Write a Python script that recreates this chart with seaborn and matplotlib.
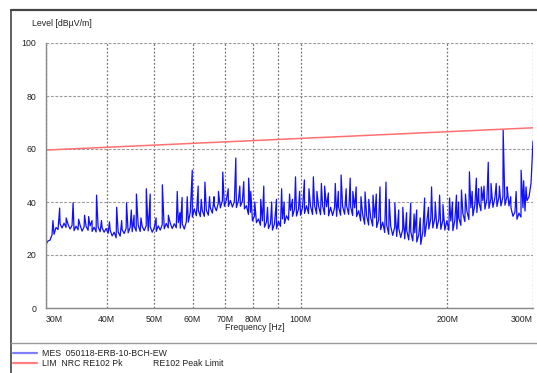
import numpy as np
import pandas as pd
import matplotlib.pyplot as plt
from matplotlib.lines import Line2D
from matplotlib.ticker import FixedLocator, NullLocator
import seaborn as sns

# Pomiar: poziom tła w dBuV/m, 244 próbki od 30 MHz do 300 MHz (skala log)
f_start, f_stop = 30, 300  # MHz
level_db = [
    24.0, 25.3, 25.6, 27.6, 27.8, 30.4, 29.6, 31.8, 30.2, 32.0,
    30.4, 31.6, 29.8, 31.2, 29.2, 30.9, 29.5, 31.3, 29.0, 30.6,
    30.8, 29.3, 31.0, 28.9, 30.5, 28.7, 30.6, 28.8, 30.2, 28.6,
    30.0, 28.2, 29.4, 27.2, 28.6, 26.5, 28.7, 27.1, 29.5, 28.1,
    30.1, 28.4, 30.5, 28.8, 30.9, 29.0, 31.2, 28.9, 30.8, 29.2,
    31.0, 29.1, 30.7, 28.6, 30.3, 28.9, 31.0, 29.4, 31.5, 29.9,
    31.9, 30.2, 32.0, 30.0, 31.8, 30.3, 32.2, 30.1, 31.7, 29.8,
    32.5, 32.4, 36.2, 34.3, 37.4, 34.8, 36.9, 34.5, 36.7, 34.6,
    36.9, 35.0, 37.8, 35.8, 38.6, 36.7, 39.7, 37.8, 40.5, 38.4,
    40.8, 38.3, 40.6, 38.1, 40.2, 37.9, 40.5, 38.4, 40.4, 37.4,
    38.6, 35.3, 36.1, 32.9, 34.7, 32.2, 33.6, 31.2, 32.9, 30.5,
    32.4, 30.0, 31.8, 29.4, 31.8, 29.9, 32.7, 30.8, 33.6, 31.9,
    34.8, 33.2, 36.8, 34.6, 37.3, 34.7, 37.4, 35.0, 37.9, 35.7,
    38.6, 35.6, 38.4, 35.3, 38.8, 35.5, 38.5, 35.2, 38.6, 35.3,
    38.2, 34.8, 38.0, 34.9, 37.9, 34.6, 38.1, 35.0, 38.3, 35.4,
    38.6, 35.3, 38.2, 34.9, 37.8, 34.5, 36.7, 32.9, 35.4, 31.6,
    34.8, 31.3, 34.2, 30.9, 34.0, 30.4, 33.3, 29.6, 32.4, 28.5,
    31.3, 27.8, 30.9, 27.4, 30.6, 27.0, 30.1, 26.6, 29.8, 26.1,
    29.2, 25.7, 28.8, 25.3, 28.4, 24.9, 27.6, 24.0, 28.6, 27.0,
    32.4, 29.8, 33.8, 30.2, 33.9, 30.0, 33.5, 29.7, 33.1, 29.4,
    32.9, 29.3, 32.8, 29.2, 33.1, 29.8, 34.0, 31.2, 35.7, 32.6,
    36.6, 33.4, 37.8, 34.8, 39.0, 36.0, 40.0, 36.7, 40.5, 37.3,
    41.0, 37.6, 41.3, 38.0, 41.6, 38.3, 41.8, 38.5, 42.0, 38.8,
    42.2, 38.5, 37.8, 34.6, 36.2, 33.5, 35.8, 34.3, 37.8, 36.6,
    40.5, 42.0, 47.0, 63.0,
]

# Piki (częstotliwość w MHz, poziom w dBuV/m)
spike_mhz = [32.0, 34.1, 36.0, 36.7, 38.1, 41.9, 43.9, 44.9, 46.0, 48.2,
             49.1, 52.0, 55.8, 57.1, 58.5, 59.9, 61.6, 63.6, 66.4, 69.2,
             73.6, 76.4, 78.2, 79.0, 82.8, 84.0, 87.2, 89.2, 91.4, 94.9,
             97.6, 101.8, 106.2, 110.3, 114.0, 117.8, 121.1, 126.4, 130.0, 135.6,
             140.8, 145.5, 149.7, 156.1, 162.1, 168.3, 173.1, 179.7, 185.7, 192.9,
             202.2, 208.9, 213.9, 222.1, 229.5, 235.0, 242.8, 252.1, 260.5, 265.5,
             283.6, 290.3]
spike_db = [37.7, 39.7, 35.0, 34.5, 42.6, 38.0, 39.7, 37.0, 43.0, 45.0,
            43.0, 46.5, 44.0, 41.7, 42.0, 52.0, 46.0, 47.5, 42.0, 51.3,
            56.6, 47.7, 49.0, 44.0, 41.0, 46.0, 40.0, 41.0, 45.0, 43.0,
            49.5, 48.3, 49.5, 47.0, 43.4, 47.0, 50.2, 49.0, 45.7, 43.8,
            42.6, 45.7, 47.5, 39.6, 38.0, 39.6, 37.0, 41.5, 45.7, 42.6,
            41.5, 42.6, 44.5, 51.4, 49.0, 45.7, 55.0, 47.0, 67.2, 45.7,
            52.0, 45.7]

# Mniejsze piki (jaśniejsza "grzywka" nad pasmem szumu)
small_mhz = [31.0, 33.0, 35.0, 37.3, 39.0, 40.5, 42.9, 45.5, 47.0, 50.5,
             53.5, 56.5, 62.5, 65.0, 67.8, 71.0, 75.0, 80.5, 85.5, 92.5,
             96.2, 99.5, 104.0, 108.0, 112.0, 119.5, 124.0, 128.0, 133.0, 138.0,
             143.0, 152.0, 159.0, 165.0, 171.0, 176.0, 183.0, 189.0, 196.0, 205.0,
             211.0, 218.0, 225.0, 232.0, 238.0, 246.0, 256.0, 270.0, 277.0, 287.0]
small_db = [33.0, 34.0, 33.5, 33.0, 33.0, 32.5, 33.0, 35.0, 34.0, 34.0,
            35.0, 36.0, 41.0, 42.0, 44.0, 45.0, 46.0, 40.0, 38.0, 40.0,
            41.0, 44.0, 45.0, 44.0, 46.0, 44.0, 45.0, 44.0, 42.0, 41.0,
            43.0, 41.0, 37.0, 36.0, 35.5, 34.0, 38.0, 40.0, 39.0, 40.0,
            40.0, 43.0, 44.0, 45.0, 46.0, 47.0, 46.0, 42.0, 44.0, 48.0]

# Linia limitu NRC RE102 Pk
limit_mhz = [30, 300]
limit_db = [59.6, 68.0]

x_ticks_mhz = [30, 40, 50, 60, 70, 80, 90, 100, 200, 300]
x_tick_labels = ['30M', '40M', '50M', '60M', '70M', '80M', '', '100M', '200M', '300M']
y_ticks = [0, 20, 40, 60, 80, 100]

sweep_mhz = np.geomspace(f_start, f_stop, len(level_db))
mes = pd.DataFrame({
    'f': np.concatenate([sweep_mhz, spike_mhz, small_mhz]),
    'level': np.concatenate([level_db, spike_db, small_db]),
}).sort_values('f')
lim = pd.DataFrame({'f': limit_mhz, 'level': limit_db})

sns.set_theme(style="white")
plt.rcParams['font.family'] = ['Liberation Sans', 'DejaVu Sans']

fig = plt.figure(figsize=(5.37, 3.73), dpi=100)
ax = fig.add_axes([46 / 537, 1 - 308 / 373, 487 / 537, 265 / 373])

sns.lineplot(data=mes, x='f', y='level', ax=ax, estimator=None,
             color='#1010ff', linewidth=0.9)
sns.lineplot(data=lim, x='f', y='level', ax=ax, estimator=None,
             color='#ff7070', linewidth=1.1)

ax.set_xscale('log')
ax.set_xlim(f_start, f_stop)
ax.set_ylim(0, 100)
ax.xaxis.set_major_locator(FixedLocator(x_ticks_mhz))
ax.xaxis.set_minor_locator(NullLocator())
ax.set_xticklabels(x_tick_labels)
ax.set_yticks(y_ticks)
ax.set_xlabel('')
ax.set_ylabel('')
ax.tick_params(axis='both', length=0, labelsize=6.3, colors='#222222')
ax.tick_params(axis='x', pad=5)
ax.tick_params(axis='y', pad=7)
labels = ax.get_xticklabels()
labels[0].set_ha('left')
labels[-1].set_ha('right')

ax.grid(True, axis='x', color='#777777', linestyle=(0, (1.5, 1.5)), linewidth=0.9)
ax.grid(True, axis='y', color='#999999', linestyle=(0, (2.5, 1.5)), linewidth=0.8)
ax.set_axisbelow(True)
for side in ['top', 'right']:
    ax.spines[side].set_visible(False)
for side in ['left', 'bottom']:
    ax.spines[side].set_color('#888888')
    ax.spines[side].set_linewidth(1.0)

fig.text(32 / 537, 1 - 24 / 373, 'Level [dBµV/m]', fontsize=6.3, va='center', color='#222222')
fig.text(255 / 537, 1 - 328 / 373, 'Frequency [Hz]', fontsize=6.3, ha='center', va='center', color='#222222')

# Ramka i legenda pod wykresem
def fline(xs, ys, **kw):
    fig.add_artist(Line2D([x / 537 for x in xs], [1 - y / 373 for y in ys],
                          transform=fig.transFigure, **kw))

fline([11, 537], [10, 10], color='#444444', linewidth=1.6)
fline([11, 11], [10, 373], color='#444444', linewidth=1.2)
fline([11, 537], [343, 343], color='#999999', linewidth=1.0)
fline([13, 37], [353, 353], color='#8080ff', linewidth=1.6)
fline([13, 37], [363, 363], color='#ff8080', linewidth=1.6)
fig.text(42 / 537, 1 - 353 / 373, 'MES  050118-ERB-10-BCH-EW', fontsize=6.3, va='center', color='#222222')
fig.text(42 / 537, 1 - 363 / 373, 'LIM  NRC RE102 Pk', fontsize=6.3, va='center', color='#222222')
fig.text(153 / 537, 1 - 363 / 373, 'RE102 Peak Limit', fontsize=6.3, va='center', color='#222222')

fig.savefig('out.png', dpi=100)
